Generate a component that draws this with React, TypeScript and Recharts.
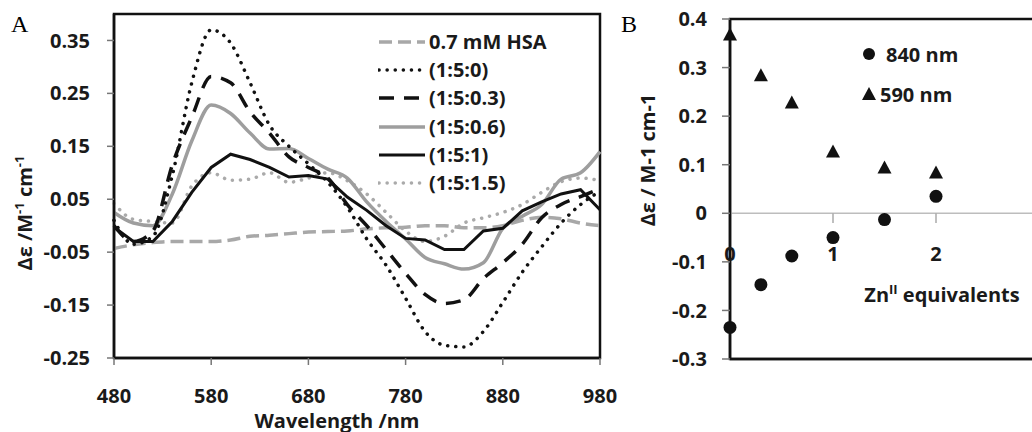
import React from "react";
import {
  LineChart,
  Line,
  XAxis,
  YAxis,
  ReferenceArea,
  ReferenceLine,
  Legend,
  ScatterChart,
  Scatter,
} from "recharts";

// Panel A: CD spectra, sampled every 20 nm
const wavelengths = [
  480, 500, 520, 540, 560, 580, 600, 620, 640, 660, 680, 700, 720, 740, 760,
  780, 800, 820, 840, 860, 880, 900, 920, 940, 960, 980,
];
const hsa = [
  -0.043, -0.036, -0.032, -0.03, -0.03, -0.03, -0.027, -0.02, -0.018, -0.015,
  -0.012, -0.011, -0.01, -0.006, -0.004, -0.003, 0.0, 0.0, -0.004, -0.004, 0.0,
  0.01, 0.016, 0.013, 0.005, 0.0,
];
const ratio0 = [
  0.01, -0.035, -0.02, 0.095, 0.27, 0.37, 0.345, 0.27, 0.19, 0.15, 0.117,
  0.082, 0.035, -0.025, -0.075, -0.137, -0.2, -0.226, -0.229, -0.2, -0.145,
  -0.088, -0.04, 0.005, 0.04, 0.065,
];
const ratio03 = [
  0.0, -0.03, -0.01, 0.115, 0.205, 0.282, 0.27, 0.215, 0.175, 0.13, 0.11, 0.09,
  0.04, 0.0, -0.045, -0.09, -0.13, -0.147, -0.14, -0.1, -0.07, -0.035, 0.015,
  0.04, 0.055, 0.07,
];
const ratio06 = [
  0.025, 0.005, 0.0, 0.06, 0.16, 0.228, 0.212, 0.175, 0.145, 0.146, 0.127,
  0.107, 0.09, 0.045, 0.008, -0.025, -0.06, -0.072, -0.082, -0.07, -0.005,
  0.018, 0.04, 0.088, 0.1, 0.14,
];
const ratio1 = [
  -0.003, -0.03, -0.03, 0.008, 0.063, 0.11, 0.135, 0.125, 0.11, 0.092, 0.095,
  0.088, 0.054, 0.029, 0.0, -0.024, -0.027, -0.045, -0.045, -0.01, -0.005,
  0.028, 0.045, 0.06, 0.068, 0.03,
];
const ratio15 = [
  0.042, 0.012, 0.008, 0.005, 0.075, 0.1, 0.086, 0.088, 0.1, 0.082, 0.09, 0.1,
  0.085, 0.06, 0.025, -0.01, -0.03, -0.02, 0.005, 0.015, 0.025, 0.04, 0.063,
  0.083, 0.09, 0.085,
];

const xTicksA = [480, 580, 680, 780, 880, 980];
const yTicksA = [-0.25, -0.15, -0.05, 0.05, 0.15, 0.25, 0.35];

// Panel B: titration at two wavelengths
const equivalents590 = [0, 0.3, 0.6, 1, 1.5, 2, 3];
const de590 = [0.367, 0.283, 0.227, 0.126, 0.093, 0.083, 0.072];
const equivalents840 = [0, 0.3, 0.6, 1, 1.5, 2];
const de840 = [-0.235, -0.147, -0.088, -0.05, -0.013, 0.035];

const xTicksB = [0, 1, 2];
const yTicksB = [-0.3, -0.2, -0.1, 0, 0.1, 0.2, 0.3, 0.4];

const FONT = '"Open Sans", "DejaVu Sans", sans-serif';
const INK = "#1a1a1a";

type SeriesStyle = {
  key: string;
  name: string;
  values: number[];
  stroke: string;
  width: number;
  dash?: string;
  cap: "butt" | "round";
  curve: "monotone" | "linear";
};

const SERIES: SeriesStyle[] = [
  { key: "hsa", name: "0.7 mM HSA", values: hsa, stroke: "#a8a8a8", width: 3.5, dash: "13 6", cap: "butt", curve: "monotone" },
  { key: "r0", name: "(1:5:0)", values: ratio0, stroke: "#111", width: 3.5, dash: "0.1 8", cap: "round", curve: "monotone" },
  { key: "r03", name: "(1:5:0.3)", values: ratio03, stroke: "#111", width: 3.5, dash: "15 10", cap: "butt", curve: "monotone" },
  { key: "r06", name: "(1:5:0.6)", values: ratio06, stroke: "#9e9e9e", width: 3.5, cap: "butt", curve: "monotone" },
  { key: "r1", name: "(1:5:1)", values: ratio1, stroke: "#111", width: 3, cap: "butt", curve: "linear" },
  { key: "r15", name: "(1:5:1.5)", values: ratio15, stroke: "#aaaaaa", width: 3.5, dash: "0.1 8", cap: "round", curve: "monotone" },
];

// draw order: lighter curves underneath
const DRAW_ORDER = ["hsa", "r15", "r06", "r1", "r03", "r0"];

const spectra = wavelengths.map((w, i) => {
  const row: Record<string, number> = { w };
  SERIES.forEach((s) => (row[s.key] = s.values[i]));
  return row;
});

const points590 = equivalents590.map((x, i) => ({ x, y: de590[i] }));
const points840 = equivalents840.map((x, i) => ({ x, y: de840[i] }));

const tickStyle = { fill: INK, fontSize: 20, fontWeight: 700, fontFamily: FONT };
const textStyle: React.CSSProperties = {
  position: "absolute",
  fontFamily: FONT,
  fontWeight: 700,
  fontSize: 20,
  color: INK,
  textAlign: "center",
  lineHeight: "22px",
  height: 22,
  whiteSpace: "nowrap",
};
const sup: React.CSSProperties = { fontSize: 13, position: "relative", top: -8 };

const LegendA = () => (
  <div style={{ fontFamily: FONT, fontWeight: 700, fontSize: 20, color: INK }}>
    {SERIES.map((s) => (
      <div key={s.key} style={{ display: "flex", alignItems: "center", height: 28.2 }}>
        <svg width={48} height={10}>
          <line
            x1={1}
            y1={5}
            x2={47}
            y2={5}
            stroke={s.stroke}
            strokeWidth={s.width}
            strokeDasharray={s.dash}
            strokeLinecap={s.cap}
          />
        </svg>
        <span style={{ marginLeft: 3, lineHeight: "28px" }}>{s.name}</span>
      </div>
    ))}
  </div>
);

const Dot = (props: any) => <circle cx={props.cx} cy={props.cy} r={6.5} fill="#111" />;
const Tri = (props: any) => {
  const { cx, cy } = props;
  return (
    <polygon
      points={`${cx},${cy - 7.5} ${cx + 7},${cy + 5.5} ${cx - 7},${cy + 5.5}`}
      fill="#111"
    />
  );
};

const LegendB = () => (
  <div style={{ fontFamily: FONT, fontWeight: 700, fontSize: 20, color: INK }}>
    <div style={{ display: "flex", alignItems: "center", height: 40 }}>
      <svg width={16} height={16}>
        <circle cx={8} cy={8} r={6} fill="#111" />
      </svg>
      <span style={{ marginLeft: 9 }}>840 nm</span>
    </div>
    <div style={{ display: "flex", alignItems: "center", height: 40 }}>
      <svg width={16} height={16}>
        <polygon points="8,1 15,14 1,14" fill="#111" />
      </svg>
      <span style={{ marginLeft: 3 }}>590 nm</span>
    </div>
  </div>
);

export default function App() {
  return (
    <div
      style={{
        position: "absolute",
        left: 0,
        top: 0,
        width: 1032,
        height: 432,
        overflow: "hidden",
        background: "#fff",
      }}
    >
      {/* Panel A */}
      <div style={{ position: "absolute", left: 0, top: 0 }}>
        <LineChart width={620} height={432} data={spectra} margin={{ top: 14, right: 20, bottom: 0, left: 0 }}>
          <XAxis
            dataKey="w"
            type="number"
            domain={[480, 980]}
            ticks={xTicksA}
            height={74}
            axisLine={{ stroke: "#111", strokeWidth: 2.5 }}
            tickLine={{ stroke: "#777", strokeWidth: 1.5 }}
            tickSize={7}
            tickMargin={24}
            tick={tickStyle}
          />
          <YAxis
            type="number"
            domain={[-0.25, 0.4]}
            ticks={yTicksA}
            width={114}
            axisLine={{ stroke: "#111", strokeWidth: 2.5 }}
            tickLine={{ stroke: "#777", strokeWidth: 1.5 }}
            tickSize={7}
            tickMargin={17}
            tick={tickStyle}
            tickFormatter={(v: number) => v.toFixed(2)}
          />
          <ReferenceArea x1={480} x2={980} y1={-0.25} y2={0.4} fill="none" stroke="#111" strokeWidth={2.5} />
          {DRAW_ORDER.map((k) => {
            const s = SERIES.find((d) => d.key === k)!;
            return (
              <Line
                key={s.key}
                dataKey={s.key}
                name={s.name}
                type={s.curve}
                stroke={s.stroke}
                strokeWidth={s.width}
                strokeDasharray={s.dash}
                strokeLinecap={s.cap}
                dot={false}
                activeDot={false}
                isAnimationActive={false}
              />
            );
          })}
          <Legend
            layout="vertical"
            align="center"
            verticalAlign="middle"
            content={LegendA}
            wrapperStyle={{ top: 28, left: 378, width: "auto" }}
          />
        </LineChart>
      </div>

      {/* Panel B */}
      <div style={{ position: "absolute", left: 600, top: 0 }}>
        <ScatterChart width={460} height={432} margin={{ top: 19, right: 21, bottom: 0, left: 0 }}>
          <XAxis
            dataKey="x"
            type="number"
            domain={[0, 3]}
            height={73}
            axisLine={{ stroke: "#111", strokeWidth: 2.5 }}
            tick={false}
            tickLine={false}
          />
          <YAxis
            dataKey="y"
            type="number"
            domain={[-0.3, 0.4]}
            ticks={yTicksB}
            width={130}
            axisLine={{ stroke: "#111", strokeWidth: 2.5 }}
            tickLine={{ stroke: "#777", strokeWidth: 1.5 }}
            tickSize={8}
            tickMargin={15}
            tick={tickStyle}
            tickFormatter={(v: number) => String(Math.round(v * 10) / 10)}
          />
          <ReferenceArea x1={0} x2={3} y1={-0.3} y2={0.4} fill="none" stroke="#111" strokeWidth={2.5} />
          <ReferenceLine y={0} stroke="#bdbdbd" strokeWidth={1.5} />
          {xTicksB.map((t) => (
            <ReferenceLine
              key={t}
              segment={[
                { x: t, y: 0 },
                { x: t, y: -0.02 },
              ]}
              stroke="#aaa"
              strokeWidth={1.5}
              label={{ value: String(t), position: "bottom", offset: 24, ...tickStyle }}
            />
          ))}
          <Scatter name="840 nm" data={points840} shape={Dot} isAnimationActive={false} />
          <Scatter name="590 nm" data={points590} shape={Tri} isAnimationActive={false} />
          <Legend
            layout="vertical"
            align="center"
            verticalAlign="middle"
            content={LegendB}
            wrapperStyle={{ top: 34, left: 261, width: "auto" }}
          />
        </ScatterChart>
      </div>

      {/* panel letters and axis titles */}
      <div style={{ position: "absolute", left: 11, top: 12, fontFamily: '"Liberation Serif", serif', fontSize: 24, lineHeight: 1 }}>
        A
      </div>
      <div style={{ position: "absolute", left: 621, top: 12, fontFamily: '"Liberation Serif", serif', fontSize: 24, lineHeight: 1 }}>
        B
      </div>
      <div style={{ ...textStyle, left: 25 - 130, top: 213 - 11, width: 260, transform: "rotate(-90deg)" }}>
        Δε /M<span style={sup}>-1</span> cm<span style={sup}>-1</span>
      </div>
      <div style={{ ...textStyle, left: 337 - 150, top: 410, width: 300 }}>Wavelength /nm</div>
      <div style={{ ...textStyle, left: 648 - 130, top: 160 - 11, width: 260, transform: "rotate(-90deg)" }}>
        Δε / M-1 cm-1
      </div>
      <div style={{ ...textStyle, left: 942 - 150, top: 295 - 11, width: 300 }}>
        Zn<span style={sup}>II</span> equivalents
      </div>
    </div>
  );
}
